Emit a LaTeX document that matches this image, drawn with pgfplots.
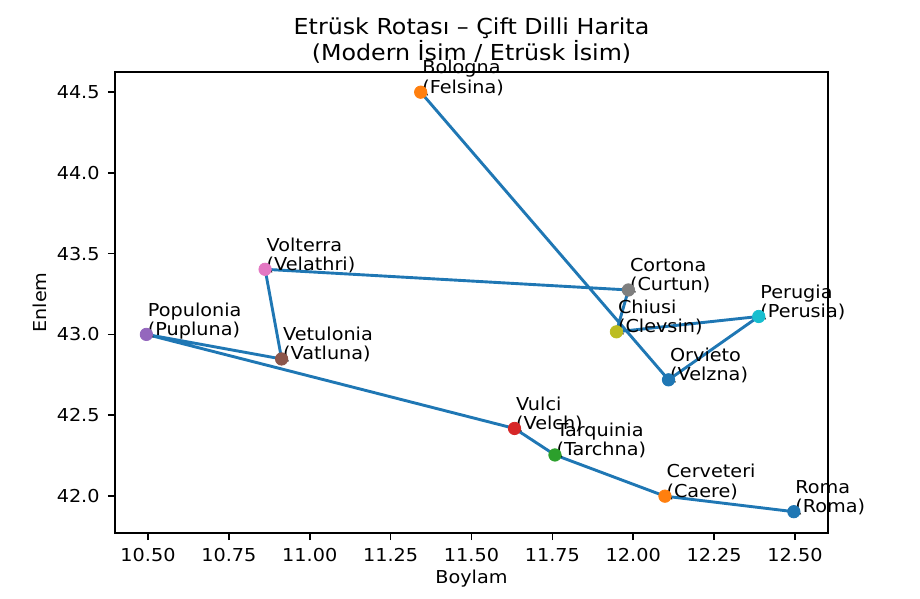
\documentclass[border=0pt]{standalone}
\usepackage{fontspec}
\setmainfont{DejaVu Sans}[FakeStretch=1.08]
\usepackage{pgfplots}
\pgfplotsset{compat=1.18}
\definecolor{c0}{HTML}{1F77B4}
\definecolor{c1}{HTML}{FF7F0E}
\definecolor{c2}{HTML}{2CA02C}
\definecolor{c3}{HTML}{D62728}
\definecolor{c4}{HTML}{9467BD}
\definecolor{c5}{HTML}{8C564B}
\definecolor{c6}{HTML}{E377C2}
\definecolor{c7}{HTML}{7F7F7F}
\definecolor{c8}{HTML}{BCBD22}
\definecolor{c9}{HTML}{17BECF}
\newcommand{\lab}{\fontsize{8.9}{10}\selectfont}
\newcommand{\city}[4]{\node[anchor=base west, inner sep=0pt, xshift=0.6pt, yshift=-0.5pt, font=\lab] at (axis cs:#1,#2) {\vbox{\baselineskip=9.6pt\hbox{#3}\hbox{(#4)}}};}
\pgfplotstableread{
x y
12.4964 41.9028
12.0980 41.9990
11.7580 42.2540
11.6330 42.4180
10.4950 43.0000
10.9130 42.8480
10.8620 43.4030
11.9850 43.2750
11.9480 43.0160
12.3880 43.1110
12.1090 42.7190
11.3430 44.4990
}\route
\begin{document}
\begin{tikzpicture}
\path[use as bounding box] (-57.5pt,-33pt) rectangle (402.5pt,266.5pt);
\begin{axis}[
  at={(0,0)}, anchor=south west,
  scale only axis, width=356.5pt, height=230.5pt,
  xmin=10.398, xmax=12.602, ymin=41.771, ymax=44.624,
  xtick={10.5,10.75,11,11.25,11.5,11.75,12,12.25,12.5},
  ytick={42,42.5,43,43.5,44,44.5},
  xticklabel style={/pgf/number format/fixed, /pgf/number format/fixed zerofill, /pgf/number format/precision=2},
  yticklabel style={/pgf/number format/fixed, /pgf/number format/fixed zerofill, /pgf/number format/precision=1},
  /pgf/number format/assume math mode=true,
  tick label style={font=\fontsize{8.9}{10}\selectfont, text=black, inner sep=0pt},
  every x tick label/.append style={anchor=north, yshift=-4pt},
  every y tick label/.append style={anchor=east, xshift=-3.9pt},
  label style={font=\fontsize{8.9}{10}\selectfont},
  tick align=outside, xtick pos=bottom, ytick pos=left,
  major tick length=3.6pt,
  every tick/.style={black, line width=0.8pt},
  axis line style={line width=0.8pt},
  xlabel={Boylam}, ylabel={Enlem},
  xlabel style={at={(axis description cs:0.5,-0.1085)}, anchor=base},
  ylabel style={at={(axis description cs:-0.0954,0.5)}, anchor=base},
  every axis title/.style={at={(axis description cs:0.5,1)}, anchor=base, yshift=5.65pt, inner sep=0pt, font=\fontsize{11}{12}\selectfont},
  title={\vbox{\baselineskip=12pt\hbox to 240pt{\hss Etrüsk Rotası – Çift Dilli Harita\hss}\hbox to 240pt{\hss(Modern İsim / Etrüsk İsim)\hss}}},
  clip=false,
]
\addplot[only marks, mark=*, mark size=3.1pt, c0, mark options={draw=none}] coordinates {(12.4964,41.9028)};
\addplot[only marks, mark=*, mark size=3.1pt, c1, mark options={draw=none}] coordinates {(12.0980,41.9990)};
\addplot[only marks, mark=*, mark size=3.1pt, c2, mark options={draw=none}] coordinates {(11.7580,42.2540)};
\addplot[only marks, mark=*, mark size=3.1pt, c3, mark options={draw=none}] coordinates {(11.6330,42.4180)};
\addplot[only marks, mark=*, mark size=3.1pt, c4, mark options={draw=none}] coordinates {(10.4950,43.0000)};
\addplot[only marks, mark=*, mark size=3.1pt, c5, mark options={draw=none}] coordinates {(10.9130,42.8480)};
\addplot[only marks, mark=*, mark size=3.1pt, c6, mark options={draw=none}] coordinates {(10.8620,43.4030)};
\addplot[only marks, mark=*, mark size=3.1pt, c7, mark options={draw=none}] coordinates {(11.9850,43.2750)};
\addplot[only marks, mark=*, mark size=3.1pt, c8, mark options={draw=none}] coordinates {(11.9480,43.0160)};
\addplot[only marks, mark=*, mark size=3.1pt, c9, mark options={draw=none}] coordinates {(12.3880,43.1110)};
\addplot[only marks, mark=*, mark size=3.1pt, c0, mark options={draw=none}] coordinates {(12.1090,42.7190)};
\addplot[only marks, mark=*, mark size=3.1pt, c1, mark options={draw=none}] coordinates {(11.3430,44.4990)};
\addplot[c0, line width=1.45pt, no markers, line join=round] table[x=x, y=y] {\route};
\city{12.4964}{41.9028}{Roma}{Roma}
\city{12.0980}{41.9990}{Cerveteri}{Caere}
\city{11.7580}{42.2540}{Tarquinia}{Tarchna}
\city{11.6330}{42.4180}{Vulci}{Velch}
\city{10.4950}{43.0000}{Populonia}{Pupluna}
\city{10.9130}{42.8480}{Vetulonia}{Vatluna}
\city{10.8620}{43.4030}{Volterra}{Velathri}
\city{11.9850}{43.2750}{Cortona}{Curtun}
\city{11.9480}{43.0160}{Chiusi}{Clevsin}
\city{12.3880}{43.1110}{Perugia}{Perusia}
\city{12.1090}{42.7190}{Orvieto}{Velzna}
\city{11.3430}{44.4990}{Bologna}{Felsina}
\end{axis}
\end{tikzpicture}
\end{document}
